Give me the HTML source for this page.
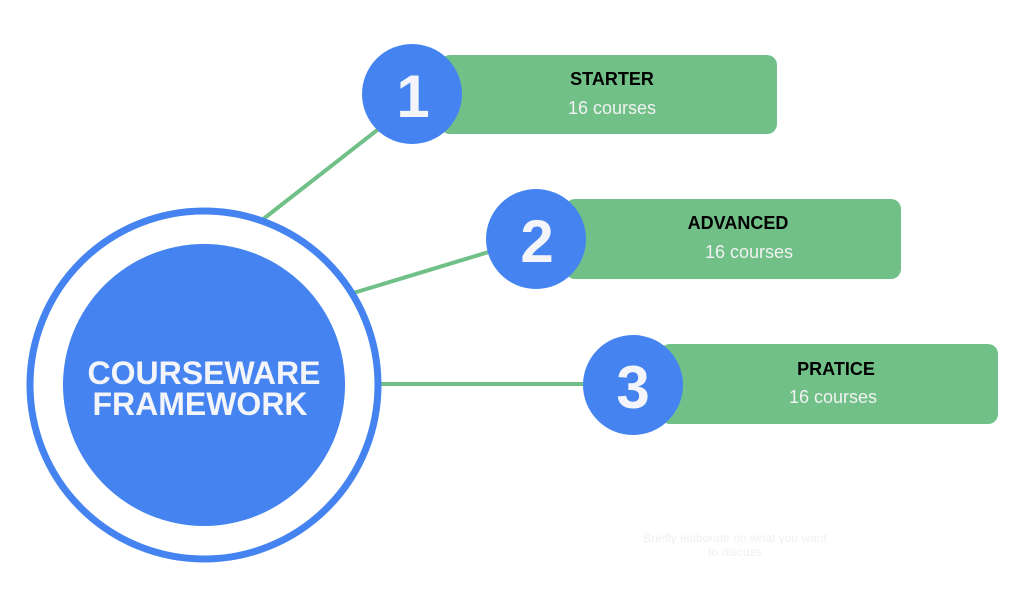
<!DOCTYPE html>
<html><head><meta charset="utf-8"><style>
html,body{margin:0;padding:0;background:#fff;width:1024px;height:606px;overflow:hidden}
svg{display:block}
</style></head><body>
<svg width="1024" height="606" viewBox="0 0 1024 606" xmlns="http://www.w3.org/2000/svg" font-family="Liberation Sans, sans-serif">
<g stroke="#70c088" stroke-width="4">
<line x1="262" y1="220" x2="385" y2="124"/>
<line x1="350" y1="294" x2="492" y2="251"/>
<line x1="380" y1="384" x2="590" y2="384"/>
</g>
<circle cx="204" cy="385" r="174" fill="none" stroke="#4584f0" stroke-width="7"/>
<circle cx="204" cy="385" r="141" fill="#4584f0"/>
<g fill="#f4f5fa" font-weight="bold" font-size="32" text-anchor="middle">
<text x="204" y="384">COURSEWARE</text>
<text x="200" y="415">FRAMEWORK</text>
</g>
<rect x="440" y="55" width="337" height="79" rx="10" fill="#70c088"/>
<rect x="565" y="199" width="336" height="80" rx="10" fill="#70c088"/>
<rect x="660" y="344" width="338" height="80" rx="10" fill="#70c088"/>
<circle cx="412" cy="94" r="50" fill="#4584f0"/>
<circle cx="536" cy="239" r="50" fill="#4584f0"/>
<circle cx="633" cy="385" r="50" fill="#4584f0"/>
<g fill="#f4f5fa" font-weight="bold" font-size="60" text-anchor="middle">
<text x="413" y="117">1</text>
<text x="537" y="262">2</text>
<text x="633" y="408">3</text>
</g>
<g font-size="18" text-anchor="middle">
<text x="612" y="85" font-weight="bold" fill="#000">STARTER</text>
<text x="612" y="114" fill="#f2f2f2">16 courses</text>
<text x="738" y="229" font-weight="bold" fill="#000">ADVANCED</text>
<text x="749" y="258" fill="#f2f2f2">16 courses</text>
<text x="836" y="375" font-weight="bold" fill="#000">PRATICE</text>
<text x="833" y="403" fill="#f2f2f2">16 courses</text>
</g>
<g font-size="12" fill="#f0f0f0" text-anchor="middle">
<text x="735" y="542">Briefly elaborate on what you want</text>
<text x="735" y="556">to discuss</text>
</g>
</svg>
</body></html>
